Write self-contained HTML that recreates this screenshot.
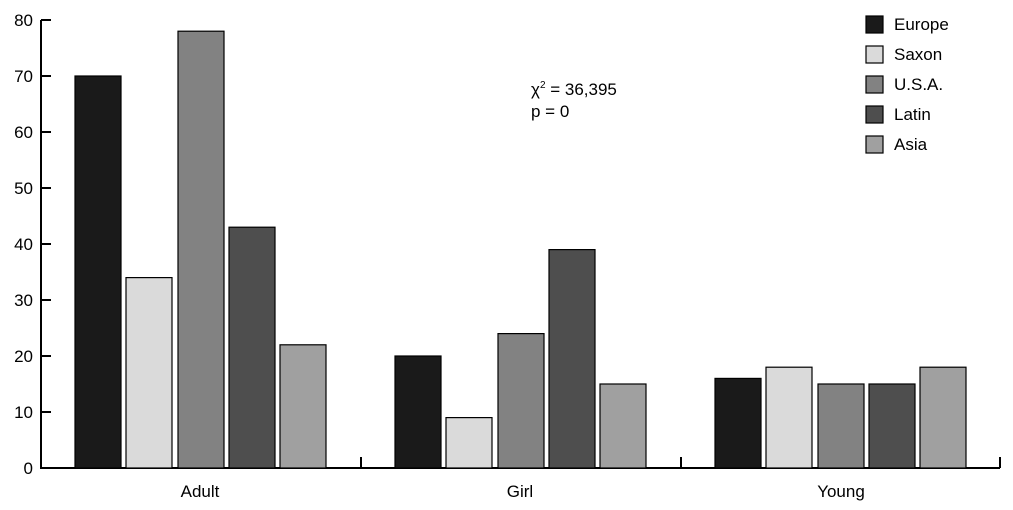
<!DOCTYPE html>
<html><head><meta charset="utf-8"><style>body{margin:0;background:#fff}svg{display:block}</style></head>
<body>
<svg width="1013" height="510" xmlns="http://www.w3.org/2000/svg" font-family="Liberation Sans, sans-serif" font-size="17" fill="#000">
<g stroke="#000" stroke-width="2">
<line x1="41" y1="20" x2="41" y2="469"/>
<line x1="40" y1="468" x2="1000" y2="468"/>
<line x1="41" y1="20" x2="51" y2="20"/>
<line x1="41" y1="76" x2="51" y2="76"/>
<line x1="41" y1="132" x2="51" y2="132"/>
<line x1="41" y1="188" x2="51" y2="188"/>
<line x1="41" y1="244" x2="51" y2="244"/>
<line x1="41" y1="300" x2="51" y2="300"/>
<line x1="41" y1="356" x2="51" y2="356"/>
<line x1="41" y1="412" x2="51" y2="412"/>
<line x1="361" y1="457" x2="361" y2="468"/>
<line x1="681" y1="457" x2="681" y2="468"/>
<line x1="1000" y1="457" x2="1000" y2="468"/>
</g>
<g text-anchor="end" font-size="17">
<text x="33" y="26">80</text><text x="33" y="82">70</text><text x="33" y="138">60</text><text x="33" y="194">50</text>
<text x="33" y="250">40</text><text x="33" y="306">30</text><text x="33" y="362">20</text><text x="33" y="418">10</text><text x="33" y="474">0</text>
</g>
<g stroke="#000" stroke-width="1.2">
<rect x="75" y="76" width="46" height="392" fill="#1a1a1a"/>
<rect x="126" y="277.6" width="46" height="190.4" fill="#dadada"/>
<rect x="178" y="31.2" width="46" height="436.8" fill="#828282"/>
<rect x="229" y="227.2" width="46" height="240.8" fill="#4e4e4e"/>
<rect x="280" y="344.8" width="46" height="123.2" fill="#a0a0a0"/>
<rect x="395" y="356" width="46" height="112" fill="#1a1a1a"/>
<rect x="446" y="417.6" width="46" height="50.4" fill="#dadada"/>
<rect x="498" y="333.6" width="46" height="134.4" fill="#828282"/>
<rect x="549" y="249.6" width="46" height="218.4" fill="#4e4e4e"/>
<rect x="600" y="384" width="46" height="84" fill="#a0a0a0"/>
<rect x="715" y="378.4" width="46" height="89.6" fill="#1a1a1a"/>
<rect x="766" y="367.2" width="46" height="100.8" fill="#dadada"/>
<rect x="818" y="384" width="46" height="84" fill="#828282"/>
<rect x="869" y="384" width="46" height="84" fill="#4e4e4e"/>
<rect x="920" y="367.2" width="46" height="100.8" fill="#a0a0a0"/>
<rect x="866" y="16" width="17" height="17" fill="#1a1a1a"/>
<rect x="866" y="46" width="17" height="17" fill="#dadada"/>
<rect x="866" y="76" width="17" height="17" fill="#828282"/>
<rect x="866" y="106" width="17" height="17" fill="#4e4e4e"/>
<rect x="866" y="136" width="17" height="17" fill="#a0a0a0"/>
</g>
<g>
<text x="894" y="30">Europe</text><text x="894" y="60">Saxon</text><text x="894" y="90">U.S.A.</text>
<text x="894" y="120">Latin</text><text x="894" y="150">Asia</text>
</g>
<text x="531" y="95">χ<tspan font-size="10" dy="-7">2</tspan><tspan dy="7"> = 36,395</tspan></text>
<text x="531" y="117">p = 0</text>
<g text-anchor="middle">
<text x="200" y="497">Adult</text><text x="520" y="497">Girl</text><text x="841" y="497">Young</text>
</g>
</svg>
</body></html>
